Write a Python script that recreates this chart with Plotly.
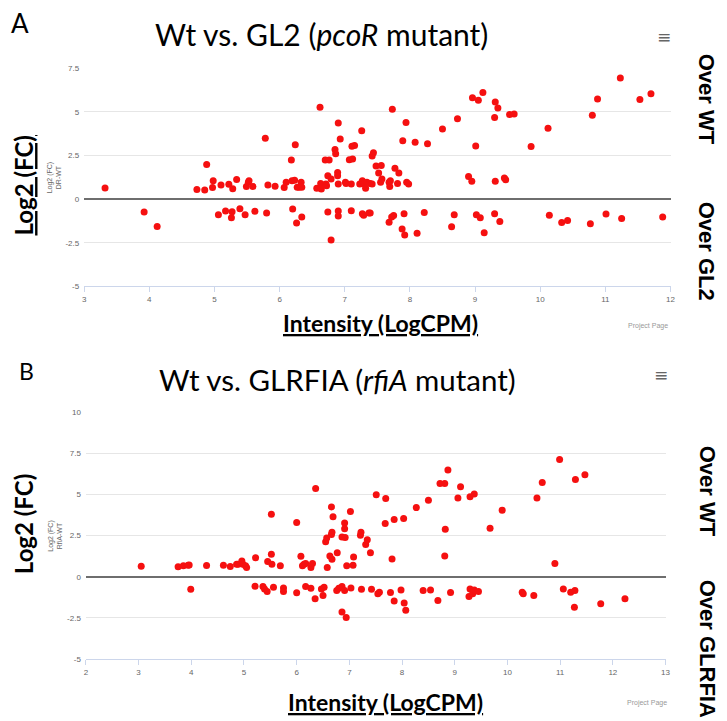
import plotly.graph_objects as go

# ---------------- Panel A data: Wt vs. GL2 ----------------
A_x = [3.32, 3.92, 4.12, 4.73, 4.85, 4.88, 4.97, 4.98, 5.06, 5.10, 5.17, 5.22, 5.26, 5.27, 5.28,
       5.34, 5.39, 5.47, 5.49, 5.52, 5.53, 5.59, 5.62, 5.78, 5.80, 5.82, 5.93, 6.07, 6.10, 6.18,
       6.19, 6.20, 6.23, 6.24, 6.26, 6.27, 6.30, 6.33, 6.34, 6.34, 6.57, 6.62, 6.63, 6.64, 6.70,
       6.71, 6.72, 6.74, 6.74, 6.76, 6.79, 6.79, 6.85, 6.86, 6.89, 6.89, 6.90, 6.90, 6.90, 6.90,
       6.93, 7.01, 7.02, 7.07, 7.10, 7.10, 7.11, 7.12, 7.15, 7.23, 7.26, 7.27, 7.27, 7.29, 7.29,
       7.32, 7.34, 7.37, 7.39, 7.39, 7.42, 7.42, 7.44, 7.48, 7.52, 7.55, 7.56, 7.57, 7.68, 7.68,
       7.69, 7.70, 7.72, 7.73, 7.75, 7.77, 7.81, 7.83, 7.88, 7.89, 7.91, 7.92, 7.94, 7.95, 7.98,
       8.08, 8.11, 8.22, 8.27, 8.50, 8.64, 8.68, 8.73, 8.90, 8.95, 8.96, 9.01, 9.02, 9.05, 9.08,
       9.12, 9.14, 9.30, 9.30, 9.31, 9.31, 9.35, 9.38, 9.45, 9.47, 9.53, 9.60, 9.86, 10.12, 10.14,
       10.33, 10.42, 10.77, 10.80, 10.88, 11.01, 11.23, 11.25, 11.53, 11.70, 11.88]
A_y = [0.64, -0.73, -1.57, 0.55, 0.53, 1.98, 0.66, 1.06, -0.89, 0.81, -0.68, 0.85, -1.07, -0.72, 0.60,
       1.13, -0.55, -0.89, 0.72, 0.96, 1.06, 0.72, -0.70, 3.49, -0.79, 0.81, 0.74, 0.66, 0.96, 2.24,
       1.06, -0.57, 1.08, 3.11, -1.36, 0.68, 0.68, 0.96, -1.02, 0.68, 0.62, 5.26, 0.90, 0.58, 2.24,
       0.87, 0.77, 1.34, -0.73, 2.24, 1.15, -2.34, 2.85, 2.60, 1.53, 1.34, 4.36, 0.87, -0.68, -0.96,
       3.45, 0.96, 0.90, 2.26, 0.87, -0.66, 3.03, 2.30, 3.07, 0.87, 3.92, 1.06, -0.83, 0.87, -0.92,
       0.62, 0.96, -0.79, 0.90, -0.79, 0.87, 2.47, 2.66, 1.90, 1.49, 0.96, 1.92, 1.15, 0.96, -1.32,
       0.72, 1.06, -1.02, 5.15, -0.94, 1.77, 0.90, 1.49, -1.71, 3.34, -0.83, -2.05, 4.39, 0.96, 0.87,
       3.26, -1.96, -0.77, 3.17, 4.02, -1.58, -0.89, 4.60, 1.30, 1.02, 5.81, 3.04, -0.89, 5.67, -1.07,
       6.11, -1.92, 4.68, -0.83, 1.02, 5.56, 5.22, -1.28, 1.21, 1.11, 4.85, 4.88, 3.01, 4.06, -0.92,
       -1.34, -1.23, -1.41, 4.81, 5.73, -0.85, 6.94, -1.11, 5.71, 6.03, -1.02]

# ---------------- Panel B data: Wt vs. GLRFIA ----------------
B_x = [3.05, 3.75, 3.85, 3.94, 3.96, 3.99, 4.29, 4.61, 4.74, 4.86, 4.89, 4.96, 4.98, 5.03, 5.05,
       5.21, 5.22, 5.36, 5.39, 5.44, 5.45, 5.52, 5.52, 5.53, 5.56, 5.69, 5.75, 5.75, 6.00, 6.00,
       6.08, 6.11, 6.14, 6.17, 6.17, 6.27, 6.27, 6.30, 6.35, 6.36, 6.47, 6.50, 6.52, 6.55, 6.57,
       6.58, 6.63, 6.66, 6.66, 6.67, 6.67, 6.69, 6.76, 6.77, 6.80, 6.86, 6.86, 6.86, 6.91, 6.91,
       6.91, 6.92, 6.94, 6.95, 7.02, 7.03, 7.07, 7.08, 7.21, 7.22, 7.23, 7.31, 7.34, 7.40, 7.42,
       7.51, 7.54, 7.57, 7.68, 7.69, 7.78, 7.81, 7.85, 7.85, 7.98, 8.03, 8.04, 8.07, 8.27, 8.40,
       8.50, 8.54, 8.68, 8.72, 8.81, 8.81, 8.82, 8.87, 8.92, 9.06, 9.11, 9.27, 9.29, 9.29, 9.34,
       9.37, 9.37, 9.45, 9.67, 9.90, 10.28, 10.30, 10.50, 10.56, 10.66, 10.90, 10.99, 11.06, 11.20,
       11.27, 11.28, 11.29, 11.47, 11.77, 12.23]
B_y = [0.64, 0.60, 0.66, 0.70, 0.72, -0.76, 0.68, 0.70, 0.62, 0.76, 0.76, 0.96, 0.76, 0.66, 0.56,
       -0.58, 1.16, -0.60, -0.74, -0.90, 0.92, 3.80, 1.36, 0.76, -0.64, 0.66, -0.68, -0.90, 3.30, -0.98,
       1.24, 0.66, 0.76, 0.80, -0.60, 0.56, -0.70, 0.80, -1.34, 5.36, -0.74, -1.14, -0.64, 2.12, 2.36,
       0.56, 1.26, 2.56, 4.24, 2.70, 1.06, 3.64, -0.84, 1.46, -0.70, -0.60, -2.14, 2.42, -0.84, 3.26,
       2.92, 2.38, -2.48, 0.66, 3.96, -0.68, 0.70, 1.20, 2.52, 2.70, -0.76, 1.96, 2.24, 1.46, -0.76,
       4.98, -1.04, -0.94, 3.24, 4.76, -0.96, 1.08, 3.48, -1.48, -0.80, 3.54, -1.60, -2.04, 4.20, -0.84,
       4.64, -0.80, -1.44, 5.66, 5.66, 1.26, 2.88, 6.48, -0.96, 4.78, 5.46, -1.20, 4.86, -0.74, -1.04,
       5.02, -0.80, -0.90, 2.94, 4.04, -0.94, -1.04, -1.14, 4.78, 5.72, 0.80, 7.12, -0.74, -0.94,
       -1.86, -0.84, 5.90, 6.20, -1.64, -1.34]

# ---------------- tick values / labels ----------------
A_xticks = [3, 4, 5, 6, 7, 8, 9, 10, 11, 12]
A_yticks = [-5, -2.5, 0, 2.5, 5, 7.5]
A_yticklabels = ["-5", "-2.5", "0", "2.5", "5", "7.5"]
B_xticks = [2, 3, 4, 5, 6, 7, 8, 9, 10, 11, 12, 13]
B_yticks = [-5, -2.5, 0, 2.5, 5, 7.5, 10]
B_yticklabels = ["-5", "-2.5", "0", "2.5", "5", "7.5", "10"]

W, H = 727, 721


def fx(p):
    return p / W


def fy(p):
    return 1 - p / H


MARK = dict(color="rgb(245,16,16)", size=7, line=dict(width=0))
TICKFONT = dict(family="Liberation Sans, Arial", size=8, color="#666666")

fig = go.Figure()
fig.add_trace(go.Scatter(x=A_x, y=A_y, mode="markers", marker=MARK, xaxis="x", yaxis="y",
                         showlegend=False, hoverinfo="x+y"))
fig.add_trace(go.Scatter(x=B_x, y=B_y, mode="markers", marker=MARK, xaxis="x2", yaxis="y2",
                         showlegend=False, hoverinfo="x+y"))


def xaxis(domain, anchor, rng, ticks):
    return dict(domain=domain, anchor=anchor, range=rng, tickvals=ticks, showgrid=False,
                zeroline=False, showline=True, linecolor="#ccd6eb", linewidth=1,
                ticks="outside", ticklen=5, tickcolor="#ccd6eb", tickwidth=1,
                tickfont=TICKFONT, fixedrange=True)


def yaxis(domain, anchor, rng, ticks, labels):
    return dict(domain=domain, anchor=anchor, range=rng, tickvals=ticks, ticktext=labels,
                showgrid=True, gridcolor="#e6e6e6", gridwidth=1, zeroline=True,
                zerolinecolor="#6e6e6e", zerolinewidth=2, showline=False, ticks="",
                ticklabelstandoff=4, tickfont=TICKFONT, fixedrange=True)


ann = []


def add(text, x, y, size, family="Lato", color="#000000", angle=0, xanchor="center",
        weight="normal", under=False):
    font = dict(family=family, size=size, color=color, weight=weight)
    if under:
        font["lineposition"] = "under"
    ann.append(dict(text=text, x=fx(x), y=fy(y), xref="paper", yref="paper", showarrow=False,
                    xanchor=xanchor, yanchor="middle", textangle=angle, font=font))


# panel letters
add("A", 18, 19, 26, family="Lato")
add("B", 25, 372, 23, family="Lato")
# titles
add("Wt vs. GL2 (<i>pcoR</i> mutant)", 323, 30, 30)
add("Wt vs. GLRFIA (<i>rfiA</i> mutant)", 339, 380, 29.5)
# menu icons
add("≡", 668, 33, 17, family="DejaVu Sans", color="#666666")
add("≡", 665, 376, 17, family="DejaVu Sans", color="#666666")
# big axis titles
add("Log2 (FC)", 22, 184, 24, angle=-90, weight="bold", under=True)
add("Log2 (FC)", 22, 527, 24, angle=-90, weight="bold")
add("Intensity (LogCPM)", 382, 323, 23, weight="bold", under=True)
add("Intensity (LogCPM)", 387, 707, 23, weight="bold", under=True)
# small chart axis titles
add("Log2 (FC)<br>DR-WT", 52, 175, 7, family="Liberation Sans, Arial", color="#666666", angle=-90)
add("Log2 (FC)<br>RfiA-WT", 54, 538, 7, family="Liberation Sans, Arial", color="#666666", angle=-90)
# right side labels
add("Over WT", 711, 96, 22, family="Liberation Sans, Arial", angle=90, weight="bold")
add("Over GL2", 711, 250, 22, family="Liberation Sans, Arial", angle=90, weight="bold")
add("Over WT", 712, 493, 22, family="Liberation Sans, Arial", angle=90, weight="bold")
add("Over GLRFIA", 712, 653, 22, family="Liberation Sans, Arial", angle=90, weight="bold")
# credits
add("Project Page", 674, 326, 7, family="Liberation Sans, Arial", color="#999999", xanchor="right")
add("Project Page", 673, 708, 7, family="Liberation Sans, Arial", color="#999999", xanchor="right")

fig.update_layout(
    width=W, height=H,
    margin=dict(l=0, r=0, t=0, b=0),
    paper_bgcolor="white", plot_bgcolor="white",
    xaxis=xaxis([fx(83), fx(675)], "y", [3, 12], A_xticks),
    yaxis=yaxis([fy(286), fy(65)], "x", [-5, 7.5], A_yticks, A_yticklabels),
    xaxis2=xaxis([fx(84.7), fx(670)], "y2", [2, 13], B_xticks),
    yaxis2=yaxis([fy(663.3), fy(413.3)], "x2", [-5, 10], B_yticks, B_yticklabels),
    annotations=ann,
    showlegend=False,
)

fig.write_html("out.html", config={"displayModeBar": False},
               post_script="document.body.style.margin='0';document.body.style.overflow='hidden';")
